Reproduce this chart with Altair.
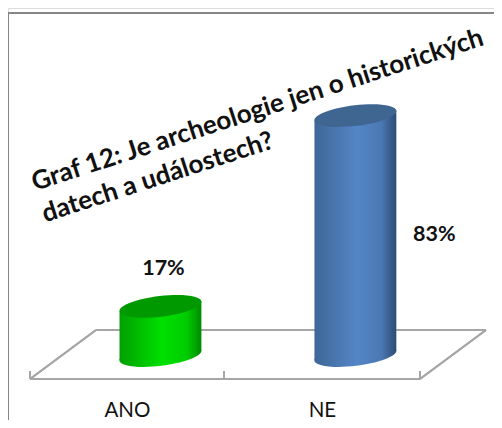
import altair as alt
import pandas as pd

categories = ["ANO", "NE"]
values = [17, 83]
labels = ["17%", "83%"]
title_lines = ["Graf 12: Je archeologie jen o historických", "datech a událostech?"]

df = pd.DataFrame({"cat": categories, "pos": [0, 1], "val": values, "zero": [0, 0], "lab": labels})

# cylinder sides: each side of the bar, slightly tilted like the 3D floor
half_width = 0.21
tilt = 1.73
body_rows = []
for i, (c, v) in enumerate(zip(categories, values)):
    body_rows.append({"cat": c, "pos": i - half_width, "top": v - tilt, "base": -tilt})
    body_rows.append({"cat": c, "pos": i + half_width, "top": v + tilt, "base": tilt})
body = pd.DataFrame(body_rows)

W, H = 486, 412
x_scale = alt.Scale(domain=[-0.782, 1.711], nice=False, zero=False)
y_scale = alt.Scale(domain=[-22.3, 120.2], nice=False, zero=False)

label_expr = f"datum.value == 0 ? '{categories[0]}' : '{categories[1]}'"
x_enc = alt.X("pos:Q", scale=x_scale, title=None,
              axis=alt.Axis(domain=False, ticks=False, labelAngle=0, labelOffset=-33.5, values=[0, 1],
                            labelExpr=label_expr, labelFont="Lato", labelFontSize=20.5,
                            labelColor="#111111", labelPadding=0, offset=-20, grid=False))
y_val = alt.Y("val:Q", scale=y_scale, axis=None)
y_zero = alt.Y("zero:Q", scale=y_scale, axis=None)


def grad(c0, c1, c2, c3):
    return alt.Gradient(gradient="linear", x1=0, x2=1, y1=0, y2=0,
                        stops=[alt.GradientStop(offset=0, color=c0),
                               alt.GradientStop(offset=0.52, color=c1),
                               alt.GradientStop(offset=0.82, color=c2),
                               alt.GradientStop(offset=1, color=c3)])


green = grad("#00a000", "#00e000", "#00cc00", "#008a00")
blue = grad("#3d6797", "#5485c6", "#4a78b2", "#2c4c74")
lid = {"ANO": "#009a00", "NE": "#3f6691"}

ELLIPSE = "M-1,0.12 A1,0.25 -7 1 1 1,-0.12 A1,0.25 -7 1 1 -1,0.12 Z"
GREY = "#a6a6a6"


def seg(x, y, x2, y2, color=GREY, w=2):
    return alt.Chart(df).mark_rule(color=color, strokeWidth=w).encode(
        x=alt.value(x), y=alt.value(y), x2=alt.value(x2), y2=alt.value(y2))


frame = [seg(0, 5, W, 5, "#868686"), seg(0, 5, 0, H, "#868686")]
floor = [seg(22, 371, 412, 371), seg(88, 322, 478, 322), seg(22, 371, 88, 322), seg(412, 371, 478, 322),
         seg(22, 363, 22, 371), seg(216, 363, 216, 371), seg(412, 363, 412, 371)]

layers = list(frame) + list(floor)
for cat, g in [("ANO", green), ("NE", blue)]:
    sub = alt.Chart(df).transform_filter(alt.datum.cat == cat)
    side = alt.Chart(body).transform_filter(alt.datum.cat == cat)
    layers.append(sub.mark_point(shape=ELLIPSE, size=6724, filled=True, fill=g, stroke=None, opacity=1)
                  .encode(x=x_enc, y=y_zero))
    layers.append(side.mark_area(fill=g, orient="vertical", line=False)
                  .encode(x=x_enc, y=alt.Y("top:Q", scale=y_scale, axis=None), y2=alt.Y2("base:Q")))
    layers.append(sub.mark_point(shape=ELLIPSE, size=6724, filled=True, fill=lid[cat], stroke=None, opacity=1)
                  .encode(x=x_enc, y=y_val))

lab_style = dict(font="Lato", fontSize=21.5, fontWeight="bold", color="#111111")
layers.append(alt.Chart(df).transform_filter(alt.datum.cat == "ANO")
              .mark_text(dx=3, dy=-37, **lab_style).encode(x=x_enc, y=y_val, text="lab:N"))
layers.append(alt.Chart(df).transform_filter(alt.datum.cat == "NE")
              .mark_text(dx=79, dy=119, **lab_style).encode(x=x_enc, y=y_val, text="lab:N"))

title_mark = alt.Chart(df.head(1)).mark_text(
    text=title_lines, angle=342, align="left", baseline="alphabetic", font="Lato", fontSize=26,
    fontWeight="bold", color="#111111", lineHeight=33,
).encode(x=alt.value(27), y=alt.value(183))
layers.append(title_mark)

chart = alt.layer(*layers).properties(
    width=W, height=H,
    padding=0,
    autosize=alt.AutoSizeParams(type="none"),
).configure_view(stroke=None).configure(background="white")

chart.save("out.html", embed_options={"renderer": "svg", "actions": False})
